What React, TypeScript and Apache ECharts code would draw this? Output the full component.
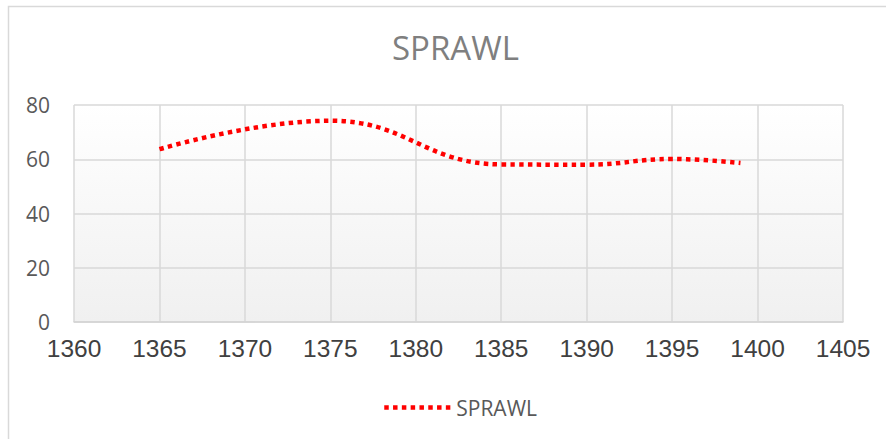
import React, { useEffect, useRef } from "react";
import * as echarts from "echarts";

const years = [1365, 1375, 1385, 1390, 1395, 1399];
const sprawl = [63.7, 74.2, 58.1, 58.0, 60.1, 58.6];
const seriesName = "SPRAWL";
const chartTitle = "SPRAWL";

export default function App() {
  const ref = useRef<HTMLDivElement>(null);
  useEffect(() => {
    if (!ref.current) return;
    const chart = echarts.init(ref.current, undefined, { renderer: "svg" });
    chart.setOption({
      animation: false,
      backgroundColor: "#ffffff",
      graphic: [
        {
          type: "rect",
          shape: { x: 8.5, y: 6.5, width: 900, height: 500 },
          style: { fill: "none", stroke: "#d9d9d9", lineWidth: 1.5 },
          silent: true,
          z: -10,
        },
      ],
      title: {
        text: chartTitle,
        left: 387,
        top: 26,
        textStyle: {
          fontFamily: "Open Sans",
          fontSize: 33,
          fontWeight: "normal",
          color: "#7f7f7f",
        },
      },
      legend: {
        top: 392,
        left: 377,
        itemWidth: 67,
        itemHeight: 12,
        itemGap: 10,
        textStyle: { fontFamily: "Open Sans", fontSize: 21, color: "#595959" },
        data: [seriesName],
        itemStyle: { opacity: 0 },
        lineStyle: { type: [4.5, 4.3], width: 4.5, color: "#ff0000", cap: "butt", opacity: 1 },
      },
      grid: {
        left: 74,
        top: 105,
        right: 43,
        bottom: 117,
        show: true,
        borderWidth: 0,
        backgroundColor: new echarts.graphic.LinearGradient(0, 0, 0, 1, [
          { offset: 0, color: "#ffffff" },
          { offset: 1, color: "#f0f0f0" },
        ]),
      },
      xAxis: {
        type: "value",
        min: 1360,
        max: 1405,
        interval: 5,
        axisLine: { show: true, lineStyle: { color: "#d4d4d4", width: 1.5 } },
        axisTick: { show: false },
        splitLine: { show: true, lineStyle: { color: "#d9d9d9", width: 1.5 } },
        axisLabel: {
          fontFamily: "Liberation Sans",
          fontSize: 24.5,
          color: "#404040",
          margin: 14,
          formatter: (v: number) => String(v),
        },
      },
      yAxis: {
        type: "value",
        min: 0,
        max: 80,
        interval: 20,
        axisLine: { show: false },
        axisTick: { show: false },
        splitLine: { show: true, lineStyle: { color: "#d9d9d9", width: 1.5 } },
        axisLabel: {
          fontFamily: "Open Sans",
          fontSize: 21,
          color: "#595959",
          margin: 24,
        },
      },
      series: [
        {
          name: seriesName,
          type: "line",
          data: years.map((y, i) => [y, sprawl[i]]),
          smooth: 0.45,
          showSymbol: false,
          symbol: "none",
          lineStyle: { color: "#ff0000", width: 4.5, type: [4.5, 4.3], cap: "butt" },
          itemStyle: { color: "#ff0000" },
        },
      ],
    });
    return () => chart.dispose();
  }, []);
  return (
    <div
      ref={ref}
      style={{ position: "fixed", left: 0, top: 0, width: 886, height: 439 }}
    />
  );
}
